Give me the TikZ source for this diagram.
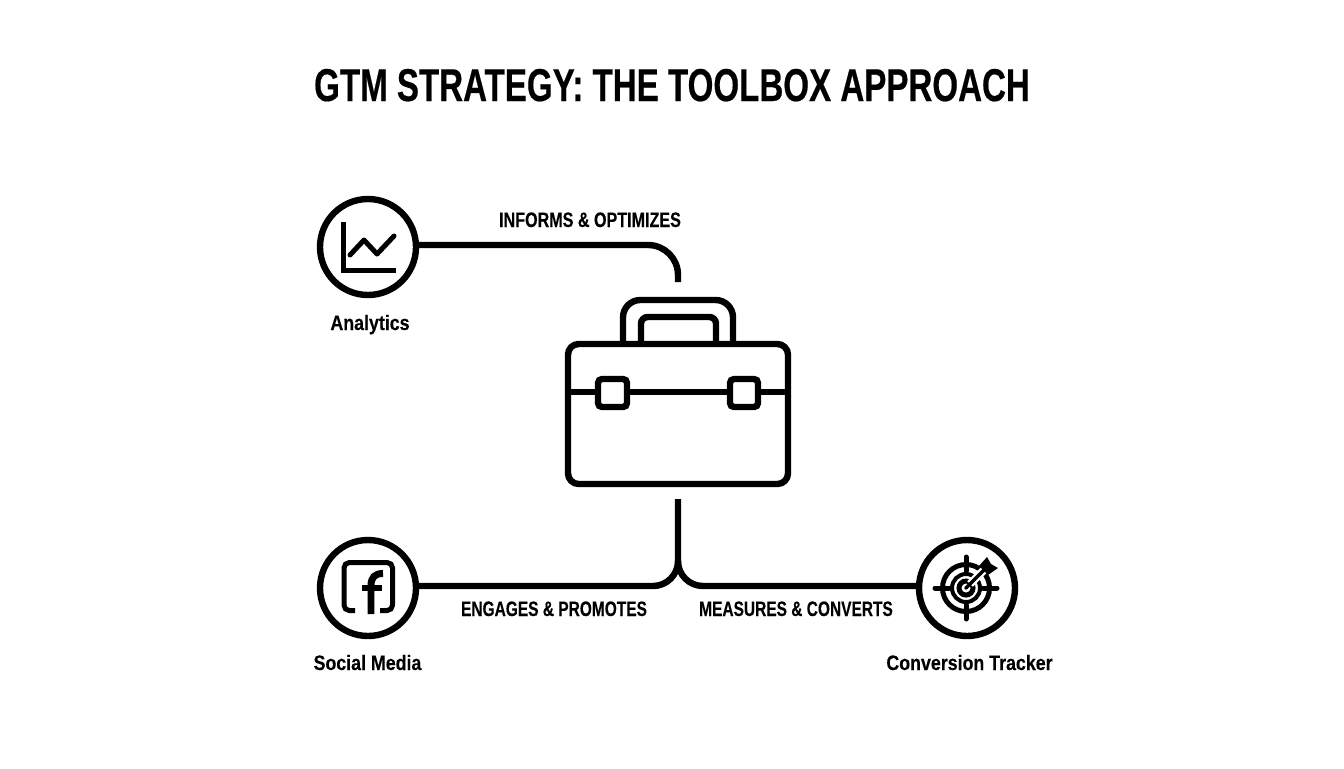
\documentclass[tikz,border=0pt]{standalone}
\usepackage{fontspec}
\setmainfont[BoldFont={Liberation Sans Bold}]{Liberation Sans}
\newfontfamily\titlefont[FakeStretch=0.72,FakeBold=0.4]{Liberation Sans Bold}
\newfontfamily\connfont[FakeStretch=0.74,FakeBold=0.2]{Liberation Sans Bold}
\newfontfamily\connwidefont[FakeStretch=0.77,FakeBold=0.2]{Liberation Sans Bold}
\newfontfamily\labfont[FakeStretch=0.85,FakeBold=0.2]{Liberation Sans Bold}
\tikzset{
  x=0.75pt,y=-0.75pt,
  ink/.style={draw=black,line width=4.8pt},
  thin ink/.style={draw=black,line width=3.75pt},
  badge/.style={circle,draw=black,line width=4.8pt,minimum size=72pt,inner sep=0pt,fill=white},
  lab/.style={font=\labfont\fontsize{15.7}{17}\selectfont,inner sep=0pt,text=black,anchor=base},
  conn/.style={font=\connfont\fontsize{15.7}{17}\selectfont,inner sep=0pt,text=black,anchor=base},
}
\begin{document}
\begin{tikzpicture}
\useasboundingbox (0,0) rectangle (1344,768);
\fill[white] (0,0) rectangle (1344,768);
\node[inner sep=0pt,anchor=base,font=\titlefont\fontsize{34.5}{38}\selectfont] (title) at (672,101) {GTM STRATEGY: THE TOOLBOX APPROACH};
% badges
\node[badge] (analytics) at (368,247) {};
\node[badge] (social) at (368,588) {};
\node[badge] (target) at (967,588) {};
\node[lab] (lana) at (370,330) {Analytics};
\node[lab] (lsoc) at (367.5,670) {Social Media};
\node[lab] (ltar) at (969.5,670) {Conversion Tracker};
% toolbox
\coordinate (boxtop) at (678,282);
\coordinate (boxbot) at (678,499);
\draw[ink,rounded corners=8pt] (568,344) rectangle (788,484);
\draw[ink,rounded corners=13pt] (623,344) -- (623,300) -- (733,300) -- (733,344);
\draw[ink,rounded corners=5pt] (641,344) -- (641,317) -- (716,317) -- (716,344);
\draw[ink] (568,392) -- (788,392);
\draw[ink,fill=white,rounded corners=3pt] (598,379) rectangle (627,407);
\draw[ink,fill=white,rounded corners=3pt] (730,379) rectangle (758,407);
% connectors
\draw[ink] (analytics.east |- 0,245) -- (648,245) arc[start angle=-90,end angle=0,radius=30] -- (boxtop);
\draw[ink] (social.east |- 0,586) -- (653,586) arc[start angle=90,end angle=0,radius=25] -- (boxbot);
\draw[ink] (target.west |- 0,586) -- (703,586) arc[start angle=90,end angle=180,radius=25];
\node[conn,font=\connwidefont\fontsize{15.7}{17}\selectfont] (l1) at (590,227) {INFORMS \& OPTIMIZES};
\node[conn] (l2) at (554,616) {ENGAGES \& PROMOTES};
\node[conn] (l3) at (796,616) {MEASURES \& CONVERTS};
% analytics icon
\draw[thin ink,line join=miter] (343,222) -- (343,270) -- (396,270);
\draw[thin ink,line cap=round,line join=round] (350,255) -- (364,240) -- (377,254) -- (394,236);
% social icon
\draw[thin ink,rounded corners=4pt] (355,610.5) -- (344,610.5) -- (344,562.5) -- (392.5,562.5) -- (392.5,610.5) -- (380,610.5);
\draw[draw=black,line width=5.2pt] (371,614) -- (371,586) .. controls (371,577) and (375,573.5) .. (383,573.5);
\draw[draw=black,line width=4pt] (362,588) -- (382,588);
% target icon
\begin{scope}[shift={(966,588)}]
\draw[line width=3.75pt] (0,0) circle[radius=23.5];
\draw[line width=3pt] (0,0) circle[radius=14];
\draw[line width=3.75pt] (0,0) circle[radius=7];
\fill (0,0) circle[radius=1.8];
\draw[line width=3.75pt,line cap=round] (-31,0) -- (-17,0) (17,0) -- (31,0) (0,-31) -- (0,-17) (0,17) -- (0,31);
\end{scope}
\draw[white,line width=6pt] (970,584) -- (984,570);
\draw[line width=2.6pt] (966,588) -- (986,568);
\fill (979,566) -- (987,557) -- (991,564) -- (998,568) -- (988,575) -- cycle;
\end{tikzpicture}
\end{document}
